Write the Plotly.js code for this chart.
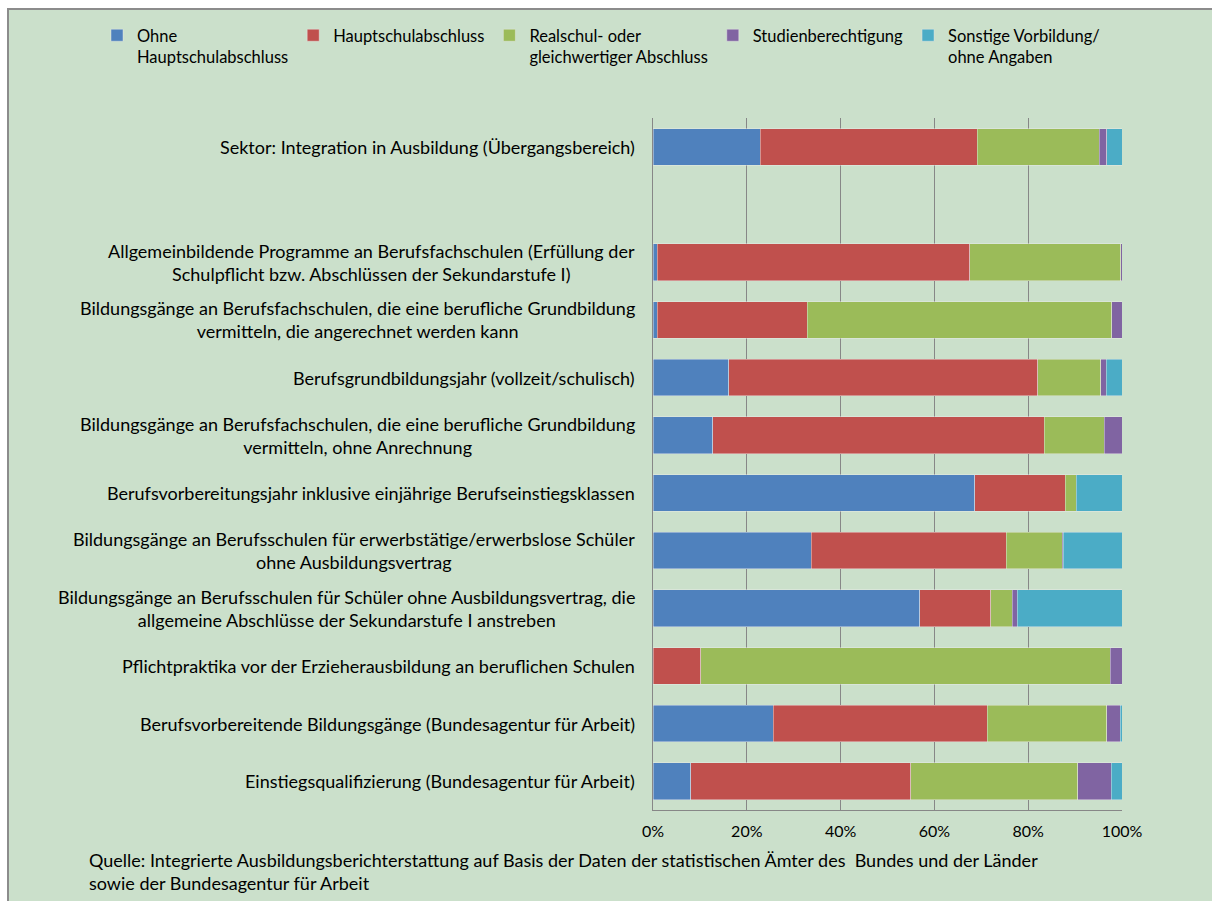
<!DOCTYPE html>
<html>
<head>
<meta charset="utf-8">
<script src="https://cdn.plot.ly/plotly-3.0.1.min.js"></script>
<style>
  html, body { margin: 0; padding: 0; background: #ffffff; overflow: hidden; }
  #frame { position: absolute; left: 7px; top: 8px; width: 1220px; height: 910px;
           background: #cbe0cb; border-left: 2px solid #8c8c8c; border-top: 2px solid #8c8c8c; }
  #chart { position: absolute; left: 0; top: 0; width: 1212px; height: 901px; }
</style>
</head>
<body>
<div id="frame"></div>
<div id="chart"></div>
<script>
// Categories, top to bottom (a blank row follows the first one)
const categories = [
  "Sektor: Integration in Ausbildung (Übergangsbereich)",
  "Allgemeinbildende Programme an Berufsfachschulen (Erfüllung der<br>Schulpflicht bzw. Abschlüssen der Sekundarstufe I)",
  "Bildungsgänge an Berufsfachschulen, die eine berufliche Grundbildung<br>vermitteln, die angerechnet werden kann",
  "Berufsgrundbildungsjahr (vollzeit/schulisch)",
  "Bildungsgänge an Berufsfachschulen, die eine berufliche Grundbildung<br>vermitteln, ohne Anrechnung",
  "Berufsvorbereitungsjahr inklusive einjährige Berufseinstiegsklassen",
  "Bildungsgänge an Berufsschulen für erwerbstätige/erwerbslose Schüler<br>ohne Ausbildungsvertrag",
  "Bildungsgänge an Berufsschulen für Schüler ohne Ausbildungsvertrag, die<br>allgemeine Abschlüsse der Sekundarstufe I anstreben",
  "Pflichtpraktika vor der Erzieherausbildung an beruflichen Schulen",
  "Berufsvorbereitende Bildungsgänge (Bundesagentur für Arbeit)",
  "Einstiegsqualifizierung (Bundesagentur für Arbeit)"
];
const blankCategory = " ";

const seriesNames = [
  "Ohne<br>Hauptschulabschluss",
  "Hauptschulabschluss",
  "Realschul- oder<br>gleichwertiger Abschluss",
  "Studienberechtigung",
  "Sonstige Vorbildung/<br>ohne Angaben"
];

// Shares in percent
const ohneHauptschulabschluss = [22.9, 0.9, 0.9, 16.2, 12.7, 68.6, 33.7, 56.9, 0.0, 25.6, 8.1];
const hauptschulabschluss     = [46.2, 66.6, 32.0, 65.8, 70.7, 19.3, 41.6, 15.1, 10.2, 45.7, 46.9];
const realschulAbschluss      = [26.0, 32.2, 64.9, 13.5, 12.8, 2.3, 12.0, 4.6, 87.3, 25.4, 35.6];
const studienberechtigung     = [1.6, 0.4, 2.3, 1.1, 3.8, 0.0, 0.2, 1.1, 2.5, 2.9, 7.1];
const sonstigeVorbildung      = [3.3, 0.0, 0.0, 3.4, 0.0, 9.8, 12.6, 22.3, 0.0, 0.4, 2.3];

const xTickValues = [0, 20, 40, 60, 80, 100];
const xTickLabels = ["0%", "20%", "40%", "60%", "80%", "100%"];
const sourceText = "Quelle: Integrierte Ausbildungsberichterstattung auf Basis der Daten der statistischen Ämter des  Bundes und der Länder<br>sowie der Bundesagentur für Arbeit";

const colors = ["#4f81bd", "#c0504d", "#9bbb59", "#8064a2", "#4bacc6"];
const allSeries = [ohneHauptschulabschluss, hauptschulabschluss, realschulAbschluss, studienberechtigung, sonstigeVorbildung];

const FONT = "Lato, 'Open Sans', sans-serif";

const traces = allSeries.map((vals, i) => ({
  type: "bar",
  orientation: "h",
  name: seriesNames[i],
  x: vals,
  y: categories,
  marker: { color: colors[i], line: { color: "rgba(235,235,235,0.55)", width: 0.8 } },
  hoverinfo: "x+name"
}));

const categoryOrder = [categories[0], blankCategory].concat(categories.slice(1));

const annotations = categories.map(c => ({
  xref: "paper", yref: "y",
  x: 0, y: c,
  xanchor: "right", yanchor: "middle",
  xshift: -16,
  align: "center",
  text: c,
  showarrow: false,
  font: { family: FONT, size: 18, color: "#000000" }
}));

annotations.push({
  xref: "paper", yref: "paper",
  x: (87 - 653) / 469, y: -(871 - 810) / 692,
  xanchor: "left", yanchor: "middle",
  align: "left",
  text: sourceText,
  showarrow: false,
  font: { family: FONT, size: 18, color: "#000000" }
});

const layout = {
  width: 1212, height: 901,
  margin: { l: 653, r: 90, t: 118, b: 91, pad: 0, autoexpand: false },
  paper_bgcolor: "rgba(0,0,0,0)",
  plot_bgcolor: "rgba(0,0,0,0)",
  barmode: "stack",
  bargap: 0.364,
  font: { family: FONT, size: 16, color: "#000000" },
  xaxis: {
    range: [0, 100],
    tickmode: "array",
    tickvals: xTickValues,
    ticktext: xTickLabels,
    showgrid: true,
    gridcolor: "#878787",
    gridwidth: 1,
    zeroline: false,
    showline: true,
    linecolor: "#878787",
    linewidth: 1,
    ticks: "",
    ticklabelstandoff: 7,
    tickfont: { family: FONT, size: 16, color: "#000000" },
    fixedrange: true
  },
  yaxis: {
    type: "category",
    categoryorder: "array",
    categoryarray: categoryOrder,
    range: [categoryOrder.length - 0.5, -0.5],
    showticklabels: false,
    showgrid: false,
    zeroline: false,
    showline: true,
    linecolor: "#878787",
    linewidth: 1,
    ticks: "",
    fixedrange: true
  },
  legend: {
    orientation: "h",
    xref: "paper", yref: "paper",
    x: (97 - 653) / 469, y: 1 + (118 - 18) / 692,
    xanchor: "left", yanchor: "top",
    valign: "top",
    traceorder: "normal",
    font: { family: FONT, size: 16.5, color: "#000000" },
    bgcolor: "rgba(0,0,0,0)"
  },
  annotations: annotations,
  showlegend: true
};

Plotly.newPlot("chart", traces, layout, { displayModeBar: false, staticPlot: true });
</script>
</body>
</html>
